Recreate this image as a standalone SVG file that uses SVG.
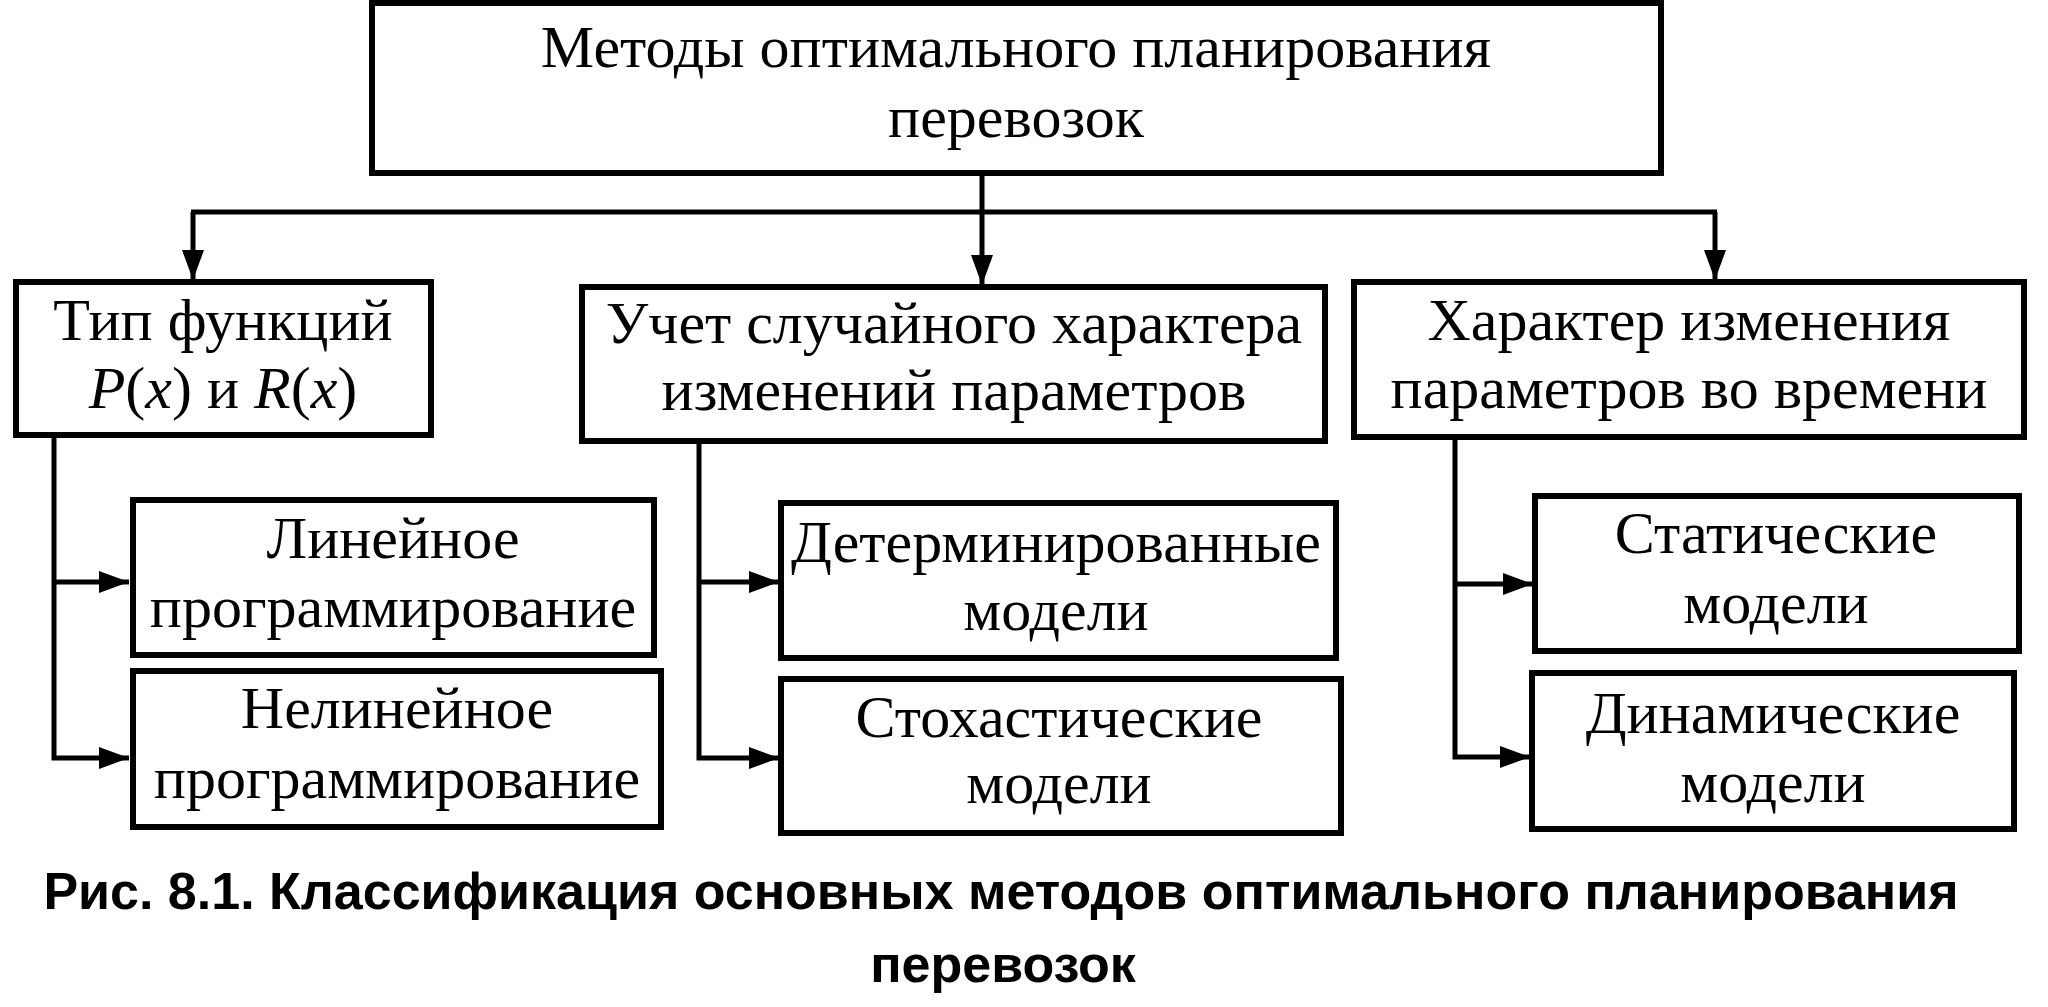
<svg xmlns="http://www.w3.org/2000/svg" width="2048" height="1007" viewBox="0 0 2048 1007">
<style>
.box{fill:#fff;stroke:#000;stroke-width:6}
.t{font-family:"Liberation Serif","Times New Roman",serif;font-size:60px;text-anchor:middle;fill:#000}
.c{fill:none;stroke:#000;stroke-width:5}
.cap{font-family:"Liberation Sans",Arial,sans-serif;font-weight:bold;font-size:52px;text-anchor:middle;fill:#000}
</style>
<defs>
<marker id="ah" markerUnits="userSpaceOnUse" markerWidth="32" markerHeight="26" refX="30" refY="13" orient="auto">
<path d="M0,2 L30,13 L0,24 Z" fill="#000"/>
</marker>
</defs>
<rect width="2048" height="1007" fill="#fff"/>
<g id="connectors">
<path class="c" d="M982,173 V285" marker-end="url(#ah)"/>
<path class="c" d="M191,212 H1717"/>
<path class="c" d="M193,212 V280" marker-end="url(#ah)"/>
<path class="c" d="M1715,212 V280" marker-end="url(#ah)"/>
<path class="c" d="M54,435 V758 H129" marker-end="url(#ah)"/>
<path class="c" d="M54,582 H129" marker-end="url(#ah)"/>
<path class="c" d="M699,441 V758 H779" marker-end="url(#ah)"/>
<path class="c" d="M699,582 H779" marker-end="url(#ah)"/>
<path class="c" d="M1455,437 V757 H1530" marker-end="url(#ah)"/>
<path class="c" d="M1455,584 H1533" marker-end="url(#ah)"/>
</g>
<g id="root">
<rect class="box" x="372" y="3" width="1289" height="170"/>
<text class="t" x="1016" y="67">Методы оптимального планирования</text>
<text class="t" x="1016" y="137">перевозок</text>
</g>
<g id="type">
<rect class="box" x="16" y="282" width="415" height="153"/>
<text class="t" x="223" y="340">Тип функций</text>
<text class="t" x="223" y="408"><tspan font-style="italic">P</tspan>(<tspan font-style="italic">x</tspan>) и <tspan font-style="italic">R</tspan>(<tspan font-style="italic">x</tspan>)</text>
</g>
<g id="random">
<rect class="box" x="582" y="287" width="743" height="154"/>
<text class="t" x="954" y="343">Учет случайного характера</text>
<text class="t" x="954" y="410">изменений параметров</text>
</g>
<g id="time">
<rect class="box" x="1354" y="282" width="670" height="155"/>
<text class="t" x="1689" y="340">Характер изменения</text>
<text class="t" x="1689" y="408">параметров во времени</text>
</g>
<g id="linear">
<rect class="box" x="133" y="500" width="521" height="155"/>
<text class="t" x="393" y="558">Линейное</text>
<text class="t" x="393" y="627">программирование</text>
</g>
<g id="nonlinear">
<rect class="box" x="133" y="671" width="528" height="156"/>
<text class="t" x="397" y="728">Нелинейное</text>
<text class="t" x="397" y="798">программирование</text>
</g>
<g id="determ">
<rect class="box" x="781" y="503" width="555" height="155"/>
<text class="t" x="1056" y="562">Детерминированные</text>
<text class="t" x="1056" y="630">модели</text>
</g>
<g id="stoch">
<rect class="box" x="781" y="679" width="560" height="154"/>
<text class="t" x="1059" y="737">Стохастические</text>
<text class="t" x="1059" y="803">модели</text>
</g>
<g id="static">
<rect class="box" x="1535" y="496" width="484" height="155"/>
<text class="t" x="1776" y="553">Статические</text>
<text class="t" x="1776" y="623">модели</text>
</g>
<g id="dynamic">
<rect class="box" x="1532" y="673" width="482" height="156"/>
<text class="t" x="1773" y="733">Динамические</text>
<text class="t" x="1773" y="802">модели</text>
</g>
<g id="caption">
<text class="cap" x="1001" y="909">Рис. 8.1. Классификация основных методов оптимального планирования</text>
<text class="cap" x="1003" y="982">перевозок</text>
</g>
</svg>
